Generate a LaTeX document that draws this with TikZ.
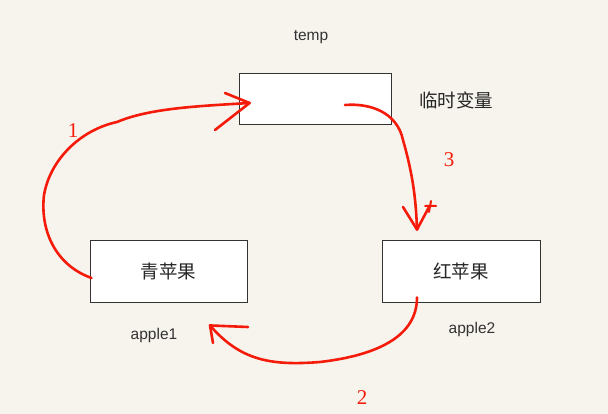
\documentclass[tikz,border=0pt]{standalone}
\usepackage{fontspec}
\setmainfont{Liberation Sans}
\newfontfamily\cjk{Noto Sans CJK SC}
\newfontfamily\numfont{Liberation Serif}
\definecolor{bg}{HTML}{F7F4EE}
\definecolor{boxline}{HTML}{333333}
\definecolor{pen}{HTML}{F51B0A}
\tikzset{
  varbox/.style={draw=boxline, fill=white, line width=0.9pt, inner sep=0pt},
  cjklabel/.style={font=\cjk\fontsize{18.5}{20}\selectfont, text=black!85},
  latinlabel/.style={font=\fontsize{15.5}{17}\selectfont, text=black!80},
  numlabel/.style={font=\numfont\fontsize{21}{23}\selectfont, text=pen},
  penline/.style={draw=pen, line width=2.6pt, line cap=round, line join=round},
}
\begin{document}
\begin{tikzpicture}[x=1pt,y=-1pt]
\fill[bg] (0,0) rectangle (608,414);
\useasboundingbox (0,0) rectangle (608,414);
% boxes
\node[varbox, minimum width=152pt, minimum height=51pt] (temp) at (315,98.5) {};
\node[varbox, minimum width=157pt, minimum height=62pt, cjklabel] (green) at (168.5,271) {青苹果};
\node[varbox, minimum width=158pt, minimum height=62pt, cjklabel] (red) at (461,271) {红苹果};
% labels
\node[latinlabel] (tempname) at (311,37) {temp};
\node[cjklabel] (tempdesc) at (456,100) {临时变量};
\node[latinlabel] (a1) at (154,335) {apple1};
\node[latinlabel] (a2) at (472,329) {apple2};
\node[numlabel] (n1) at (73,131) {1};
\node[numlabel] (n3) at (449,160) {3};
\node[numlabel] (n2) at (362,398) {2};
% arrow 1: green -> temp
\coordinate (s1) at ([xshift=2pt,yshift=-7pt]green.west);
\coordinate (t1) at ([xshift=11pt,yshift=-4.5pt]temp.west);
\draw[penline] (s1) .. controls (55,265) and (40,230) .. (44,195)
  .. controls (50,160) and (80,130) .. (117,122)
  .. controls (150,108) and (200,106) .. (t1);
\draw[penline] (225,93) -- (t1) -- (215,130);
% arrow 3: temp -> red
\coordinate (s3) at ([xshift=30pt,yshift=-6.5pt]temp.center);
\coordinate (t3) at ([xshift=-44pt,yshift=10pt]red.north);
\draw[penline] (s3) .. controls (370,103) and (397,112) .. (403,140)
  .. controls (413,175) and (416,200) .. (t3);
\draw[penline] (403,207) -- (t3) -- (429,207);
\draw[draw=pen, line width=2pt, line cap=round] (425,206) -- (436,206) (431,201) -- (429,212);
% arrow 2: red -> green
\coordinate (s2) at ([xshift=-44pt,yshift=5pt]red.south);
\coordinate (t2) at ([xshift=41.5pt,yshift=-23pt]green.south);
\draw[penline] (s2) .. controls (417,335) and (380,355) .. (320,362)
  .. controls (270,366) and (240,360) .. (t2);
\draw[penline] (248,327) -- (t2) -- (213,343);
\end{tikzpicture}
\end{document}
